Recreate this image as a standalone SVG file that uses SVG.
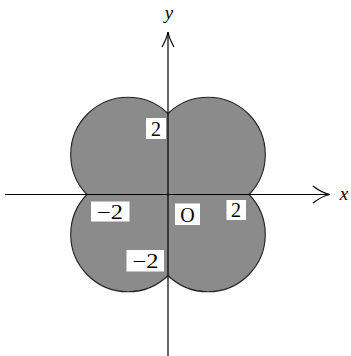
<svg xmlns="http://www.w3.org/2000/svg" width="351" height="356" viewBox="0 0 351 356">
<style>
.ax{stroke:#000;stroke-width:1.2;fill:none}
.lbl{font-family:"Liberation Serif","DejaVu Serif",serif;font-size:20px;fill:#000;text-anchor:middle}
.var{font-family:"Liberation Serif","DejaVu Serif",serif;font-size:19px;font-style:italic;fill:#000;text-anchor:middle}
.box{fill:#fff}
</style>
<rect width="351" height="356" fill="#fff"/>
<g id="region">
<path d="M249,194.5 A57.28,57.28 0 0 0 168,113.5 A57.28,57.28 0 0 0 87,194.5 A57.28,57.28 0 0 0 168,275.5 A57.28,57.28 0 0 0 249,194.5 Z" fill="#8b8b8b" stroke="#222" stroke-width="1.1"/>
</g>
<g id="axes">
<line class="ax" x1="5" y1="194.5" x2="330" y2="194.5"/>
<path class="ax" d="M313,186 Q322,193 330,194.5 Q322,196 313,203"/>
<line class="ax" x1="168" y1="32" x2="168" y2="356"/>
<path class="ax" d="M162,47 Q167,38 168,32 Q169,38 174,47"/>
</g>
<g id="label-x"><text class="var" x="344" y="200">x</text></g>
<g id="label-y"><text class="var" x="169" y="19">y</text></g>
<g id="label-y2"><rect class="box" x="146" y="118" width="20" height="21"/><text class="lbl" x="156" y="136">2</text></g>
<g id="label-xm2"><rect class="box" x="91" y="201.5" width="38.5" height="20"/><text class="lbl" x="110" y="218.5" textLength="26" lengthAdjust="spacingAndGlyphs">−2</text></g>
<g id="label-O"><rect class="box" x="175" y="203.5" width="25" height="21.5"/><text class="lbl" x="187.5" y="221.5">O</text></g>
<g id="label-x2"><rect class="box" x="226.5" y="200" width="19.5" height="20"/><text class="lbl" x="236" y="217">2</text></g>
<g id="label-ym2"><rect class="box" x="126.5" y="250" width="37.5" height="21.5"/><text class="lbl" x="145.5" y="267.5" textLength="26" lengthAdjust="spacingAndGlyphs">−2</text></g>
</svg>
